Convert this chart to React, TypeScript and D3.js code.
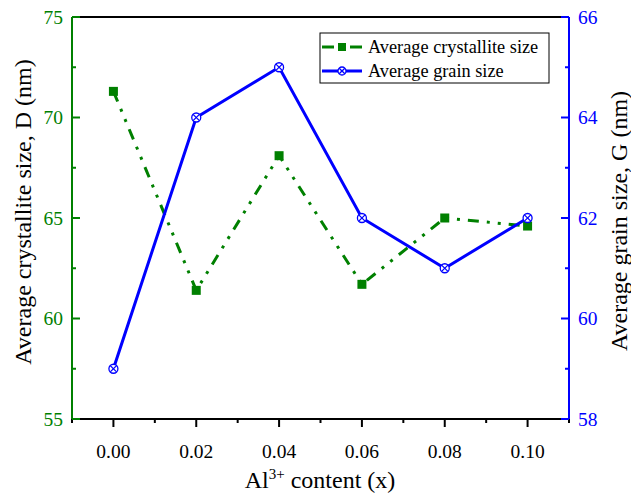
import React from "react";
import * as d3 from "d3";

const xValues = [0.0, 0.02, 0.04, 0.06, 0.08, 0.1];
const crystalliteSize = [71.3, 61.4, 68.1, 61.7, 65.0, 64.6];
const grainSize = [59, 64, 65, 62, 61, 62];
const xTicks = [0.0, 0.02, 0.04, 0.06, 0.08, 0.1];
const xMinorTicks = [-0.01, 0.01, 0.03, 0.05, 0.07, 0.09, 0.11];
const leftTicks = [55, 60, 65, 70, 75];
const leftMinor = [57.5, 62.5, 67.5, 72.5];
const rightTicks = [58, 60, 62, 64, 66];
const rightMinor = [59, 61, 63, 65];

const W = 631;
const H = 498;
const L = 72, R = 569, T = 17, B = 419;
const GREEN = "#008000";
const BLUE = "#0000ff";
const FONT = "'Liberation Serif', 'Times New Roman', serif";

export default function App() {
  const x = d3.scaleLinear().domain([-0.01, 0.11]).range([L, R]);
  const yL = d3.scaleLinear().domain([55, 75]).range([B, T]);
  const yR = d3.scaleLinear().domain([58, 66]).range([B, T]);

  const lineL = d3
    .line<number>()
    .x((_, i) => x(xValues[i]))
    .y((d) => yL(d));
  const lineR = d3
    .line<number>()
    .x((_, i) => x(xValues[i]))
    .y((d) => yR(d));

  const sq = 9;
  const cr = 4.5;

  const crossMarker = (cx: number, cy: number, key: string | number, r = cr) => (
    <g key={key}>
      <circle cx={cx} cy={cy} r={r} fill="white" stroke={BLUE} strokeWidth={1.3} />
      <line x1={cx - r * 0.7} y1={cy - r * 0.7} x2={cx + r * 0.7} y2={cy + r * 0.7} stroke={BLUE} strokeWidth={1.3} />
      <line x1={cx - r * 0.7} y1={cy + r * 0.7} x2={cx + r * 0.7} y2={cy - r * 0.7} stroke={BLUE} strokeWidth={1.3} />
    </g>
  );

  return (
    <svg width={W} height={H} style={{ position: "absolute", left: 0, top: 0, background: "white" }} fontFamily={FONT}>
      <rect x={0} y={0} width={W} height={H} fill="white" />
      {/* top frame */}
      <line x1={L} y1={T} x2={R} y2={T} stroke="black" strokeWidth={2} />
      {/* bottom axis */}
      <line x1={L} y1={B} x2={R} y2={B} stroke="black" strokeWidth={2} />
      {xTicks.map((t) => (
        <g key={"xt" + t}>
          <line x1={x(t)} y1={B} x2={x(t)} y2={B + 8} stroke="black" strokeWidth={2} />
          <text x={x(t)} y={458} textAnchor="middle" fontSize={19.5} fill="black">
            {t.toFixed(2)}
          </text>
        </g>
      ))}
      {xMinorTicks.map((t) => (
        <line key={"xm" + t} x1={x(t)} y1={B} x2={x(t)} y2={B + 4} stroke="black" strokeWidth={2} />
      ))}
      {/* left axis */}
      <line x1={L} y1={T} x2={L} y2={B} stroke={GREEN} strokeWidth={2} />
      {leftTicks.map((t) => (
        <g key={"lt" + t}>
          <line x1={L} y1={yL(t)} x2={L + 8} y2={yL(t)} stroke={GREEN} strokeWidth={2} />
          <text x={63} y={yL(t)} dy="0.35em" textAnchor="end" fontSize={19.5} fill={GREEN}>
            {t}
          </text>
        </g>
      ))}
      {leftMinor.map((t) => (
        <line key={"lm" + t} x1={L} y1={yL(t)} x2={L + 4} y2={yL(t)} stroke={GREEN} strokeWidth={2} />
      ))}
      {/* right axis */}
      <line x1={R} y1={T} x2={R} y2={B} stroke={BLUE} strokeWidth={2} />
      {rightTicks.map((t) => (
        <g key={"rt" + t}>
          <line x1={R} y1={yR(t)} x2={R - 8} y2={yR(t)} stroke={BLUE} strokeWidth={2} />
          <text x={578} y={yR(t)} dy="0.35em" textAnchor="start" fontSize={19.5} fill={BLUE}>
            {t}
          </text>
        </g>
      ))}
      {rightMinor.map((t) => (
        <line key={"rm" + t} x1={R} y1={yR(t)} x2={R - 4} y2={yR(t)} stroke={BLUE} strokeWidth={2} />
      ))}

      {/* series lines */}
      <path d={lineL(crystalliteSize) || ""} fill="none" stroke={GREEN} strokeWidth={3} strokeDasharray="11,8,3,8,3,8" />
      <path d={lineR(grainSize) || ""} fill="none" stroke={BLUE} strokeWidth={3} />
      {crystalliteSize.map((v, i) => (
        <rect key={"s" + i} x={x(xValues[i]) - sq / 2} y={yL(v) - sq / 2} width={sq} height={sq} fill={GREEN} />
      ))}
      {grainSize.map((v, i) => crossMarker(x(xValues[i]), yR(v), "c" + i))}

      {/* legend */}
      <rect x={320} y={33} width={229} height={50} fill="white" stroke="black" strokeWidth={1} />
      <line x1={322} y1={47} x2={334} y2={47} stroke={GREEN} strokeWidth={3} />
      <line x1={350} y1={47} x2={362} y2={47} stroke={GREEN} strokeWidth={3} />
      <rect x={342 - 4} y={47 - 4} width={8} height={8} fill={GREEN} />
      <text x={368} y={47} dy="0.35em" fontSize={18.3} fill="black">
        Average crystallite size
      </text>
      <line x1={322} y1={71} x2={362} y2={71} stroke={BLUE} strokeWidth={3} />
      {crossMarker(342, 71, "lg", 4)}
      <text x={368} y={71} dy="0.35em" fontSize={18.3} fill="black">
        Average grain size
      </text>

      {/* axis titles */}
      <text x={320} y={488} textAnchor="middle" fontSize={24} fill="black">
        Al<tspan fontSize={15} dy={-9}>3+</tspan>
        <tspan dy={9}> content (x)</tspan>
      </text>
      <text transform={`translate(31,212) rotate(-90)`} textAnchor="middle" fontSize={24} fill="black">
        Average crystallite size, D (nm)
      </text>
      <text transform={`translate(627,221) rotate(-90)`} textAnchor="middle" fontSize={24} fill="black">
        Average grain size, G (nm)
      </text>
    </svg>
  );
}
